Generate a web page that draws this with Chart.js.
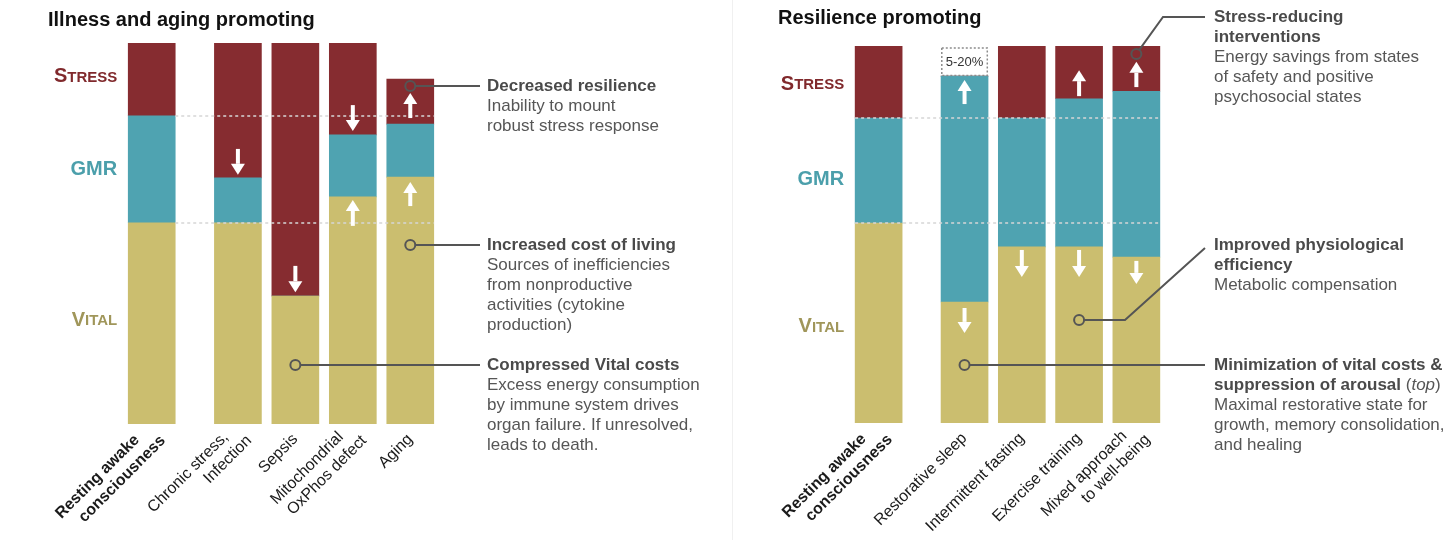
<!DOCTYPE html>
<html>
<head>
<meta charset="utf-8">
<script src="https://cdn.jsdelivr.net/npm/chart.js@4.4.1/dist/chart.umd.min.js"></script>
<style>
  html, body { margin: 0; padding: 0; background: #fff; }
  #wrap { position: relative; width: 1456px; height: 540px; overflow: hidden; }
  canvas { position: absolute; top: 0; }
  #left { left: 0; }
  #right { left: 732px; }
  #divider { position: absolute; left: 732px; top: 0; width: 1px; height: 540px; background: #f0f0f0; }
</style>
</head>
<body>
<div id="wrap">
  <canvas id="left" width="732" height="540"></canvas>
  <canvas id="right" width="724" height="540"></canvas>
  <div id="divider"></div>
</div>
<script>
// energy budget, % of resting awake total
const illnessLabels = [['Resting awake', 'consciousness'], ['Chronic stress,', 'Infection'], 'Sepsis', ['Mitochondrial', 'OxPhos defect'], 'Aging'];
const illnessVital  = [52.8, 52.8, 33.6, 59.6, 64.8];
const illnessGmr    = [28.1, 11.8, 0, 16.3, 13.9];
const illnessStress = [19.1, 35.4, 66.4, 24.1, 11.8];

const resilLabels  = [['Resting awake', 'consciousness'], 'Restorative sleep', 'Intermittent fasting', 'Exercise training', ['Mixed approach', 'to well-being']];
const resilVital   = [53.0, 32.1, 46.7, 46.7, 44.0];
const resilGmr     = [27.9, 59.9, 34.2, 39.3, 44.0];
const resilStress  = [19.1, 0, 19.1, 14.0, 12.0];
const resilSavings = [0, 7.7, 0, 0, 0];
const savingsText  = '5-20%';

// arrows: [bar, from, to]
const illnessArrows = [[1, 72.2, 65.4], [2, 41.5, 34.6], [3, 83.7, 76.9], [3, 52.0, 58.8], [4, 80.3, 86.9], [4, 57.2, 63.5]];
const resilArrows   = [[1, 84.6, 91.0], [1, 30.5, 23.9], [2, 45.9, 38.7], [3, 86.7, 93.6], [3, 45.9, 38.7], [4, 89.1, 95.8], [4, 43.0, 36.9]];

// callout texts
const illnessNotes = [
  { bar: 4, at: 88.7, head: ['Decreased resilience'], body: ['Inability to mount', 'robust stress response'] },
  { bar: 4, at: 47.0, head: ['Increased cost of living'], body: ['Sources of inefficiencies', 'from nonproductive', 'activities (cytokine', 'production)'] },
  { bar: 2, at: 15.5, head: ['Compressed Vital costs'], body: ['Excess energy consumption', 'by immune system drives', 'organ failure. If unresolved,', 'leads to death.'] }
];
const resilNotes = [
  { bar: 4, at: 97.9, textAt: 107.7, head: ['Stress-reducing', 'interventions'], body: ['Energy savings from states', 'of safety and positive', 'psychosocial states'] },
  { bar: 3, at: 27.3, textAt: 47.2, head: ['Improved physiological', 'efficiency'], body: ['Metabolic compensation'] },
  { bar: 1, at: 15.4, head: ['Minimization of vital costs &', [['suppression of arousal ', 'b'], ['(', 'r'], ['top', 'i'], [')', 'r']]],
    body: ['Maximal restorative state for', 'growth, memory consolidation,', 'and healing'] }
];

const sideNames = [['S', 'TRESS'], ['GMR', ''], ['V', 'ITAL']];

const C_VITAL = '#cbbe6f', C_GMR = '#4fa3b1', C_STRESS = '#862c30';
const SIDE_COLORS = ['#80292c', '#4b9fab', '#a0965a'];
const FONT = '"Liberation Sans", Arial, Helvetica, sans-serif';
const BAR = 47;
const NOTE_PX = 17;

function drawArrow(ctx, x, y0, y1) {
  const dir = Math.sign(y1 - y0), head = 11;
  ctx.strokeStyle = '#fff';
  ctx.fillStyle = '#fff';
  ctx.lineWidth = 4;
  ctx.beginPath();
  ctx.moveTo(x, y0);
  ctx.lineTo(x, y1 - dir * head);
  ctx.stroke();
  ctx.beginPath();
  ctx.moveTo(x - 7, y1 - dir * head);
  ctx.lineTo(x + 7, y1 - dir * head);
  ctx.lineTo(x, y1);
  ctx.closePath();
  ctx.fill();
}

function segFont(style) {
  if (style === 'b') return 'bold ' + NOTE_PX + 'px ' + FONT;
  if (style === 'i') return 'italic ' + NOTE_PX + 'px ' + FONT;
  return NOTE_PX + 'px ' + FONT;
}

function drawSegments(ctx, segs, x, y) {
  segs.forEach(([t, s]) => {
    ctx.font = segFont(s);
    ctx.fillStyle = s === 'b' ? '#4a4a4a' : '#565656';
    ctx.fillText(t, x, y);
    x += ctx.measureText(t).width;
  });
}

function decor(p) {
  return {
    id: 'decor',
    afterDatasetsDraw(chart) {
      const { ctx, scales: { x, y } } = chart;
      const px = i => x.getPixelForValue(p.slots[i]);
      const py = v => y.getPixelForValue(v);
      const half = BAR / 2;
      ctx.save();

      // dotted box for energy savings
      if (p.savings) {
        chart.getDatasetMeta(3).data.forEach((el, i) => {
          if (!p.savings[i]) return;
          const { x: cx, y: top, base } = el.getProps(['x', 'y', 'base'], true);
          ctx.setLineDash([2, 2]);
          ctx.strokeStyle = '#8c8c8c';
          ctx.lineWidth = 1.5;
          ctx.strokeRect(cx - half + 0.75, top + 0.75, BAR - 1.5, base - top - 1.5);
          ctx.setLineDash([]);
          ctx.fillStyle = '#333';
          ctx.font = '13px ' + FONT;
          ctx.textAlign = 'center';
          ctx.textBaseline = 'middle';
          ctx.fillText(savingsText, cx, (top + base) / 2 + 1);
        });
      }

      // dashed levels of the resting awake bar
      const x0 = px(0) + (p.dashAcrossFirst ? -half : half), x1 = px(p.slots.length - 1) + half;
      ctx.setLineDash([3, 3]);
      ctx.strokeStyle = '#d6d6d6';
      ctx.lineWidth = 1.5;
      [p.vital[0], p.vital[0] + p.gmr[0]].forEach(v => {
        const yy = Math.round(py(v));
        ctx.beginPath();
        ctx.moveTo(x0, yy);
        ctx.lineTo(x1, yy);
        ctx.stroke();
      });
      ctx.setLineDash([]);

      p.arrows.forEach(([i, a, b]) => drawArrow(ctx, px(i), py(a), py(b)));

      // callout leaders
      ctx.strokeStyle = '#555';
      ctx.lineWidth = 2;
      p.notes.forEach((n, k) => {
        const cx = px(n.bar), cy = py(n.at), r = 5;
        const lay = p.noteLayout[k];
        const ty = n.textAt !== undefined ? py(n.textAt) : cy;
        ctx.beginPath();
        ctx.arc(cx, cy, r, 0, Math.PI * 2);
        ctx.stroke();
        ctx.beginPath();
        if (lay.route === 'riseFirst') {
          const kx = p.lineEnd - lay.knee;
          const ang = Math.atan2(ty - cy, kx - cx);
          ctx.moveTo(cx + r * Math.cos(ang), cy + r * Math.sin(ang));
          ctx.lineTo(kx, ty);
          ctx.lineTo(p.lineEnd, ty);
        } else if (lay.route === 'riseLast') {
          ctx.moveTo(cx + r, cy);
          ctx.lineTo(p.lineEnd - lay.knee, cy);
          ctx.lineTo(p.lineEnd, ty + 3);
        } else {
          ctx.moveTo(cx + r, cy);
          ctx.lineTo(p.lineEnd, cy);
        }
        ctx.stroke();
      });
      ctx.restore();
    },
    afterDraw(chart) {
      const { ctx, chartArea, scales: { x, y } } = chart;
      const py = v => y.getPixelForValue(v);
      ctx.save();
      ctx.textBaseline = 'middle';
      ctx.textAlign = 'left';
      ctx.fillStyle = '#111';
      ctx.font = 'bold 20px ' + FONT;
      ctx.fillText(p.title, p.titleX, p.titleY);

      // small-caps side labels
      const rightEdge = x.getPixelForValue(p.slots[0]) - BAR / 2 - 11;
      sideNames.forEach(([big, small], k) => {
        const yy = py(p.sideAt[k]);
        ctx.font = 'bold 20px ' + FONT;
        const wb = ctx.measureText(big).width;
        ctx.font = 'bold 15px ' + FONT;
        const ws = ctx.measureText(small).width;
        ctx.fillStyle = SIDE_COLORS[k];
        ctx.font = 'bold 20px ' + FONT;
        ctx.fillText(big, rightEdge - wb - ws, yy);
        ctx.font = 'bold 15px ' + FONT;
        ctx.fillText(small, rightEdge - ws, yy + 0.5);
      });

      // rotated category labels, anchored at each bar's foot
      p.labels.forEach((lab, i) => {
        const lines = Array.isArray(lab) ? lab : [lab];
        const multi = lines.length > 1;
        ctx.save();
        ctx.translate(x.getPixelForValue(p.slots[i]) - 6.8, chartArea.bottom + 6);
        ctx.rotate(-Math.PI / 4);
        ctx.textAlign = 'right';
        ctx.fillStyle = '#1a1a1a';
        ctx.font = (i === 0 ? 'bold ' : '') + '16px ' + FONT;
        lines.forEach((t, k) => {
          const dx = multi ? (k === 0 ? (i === 0 ? -11 : -7) : 7) : 0;
          const dy = 9.6 + k * 19 - (multi ? 10 : 0);
          ctx.fillText(t, dx, dy);
        });
        ctx.restore();
      });

      // callout texts
      p.notes.forEach(n => {
        let yy = n.textAt !== undefined ? py(n.textAt) : py(n.at);
        n.head.forEach(line => {
          drawSegments(ctx, typeof line === 'string' ? [[line, 'b']] : line, p.textX, yy);
          yy += 20;
        });
        n.body.forEach(line => {
          drawSegments(ctx, [[line, 'r']], p.textX, yy);
          yy += 20;
        });
      });
      ctx.restore();
    }
  };
}

function makeChart(id, p) {
  const ds = (label, vals, color) => ({
    label,
    data: vals.map((v, i) => ({ x: p.slots[i], y: v })),
    backgroundColor: color,
    borderWidth: 0,
    barThickness: BAR
  });
  const datasets = [ds('Vital', p.vital, C_VITAL), ds('GMR', p.gmr, C_GMR), ds('Stress', p.stress, C_STRESS)];
  if (p.savings) datasets.push(ds('Savings', p.savings, '#ffffff'));

  return new Chart(document.getElementById(id), {
    type: 'bar',
    data: { datasets },
    options: {
      responsive: false,
      animation: false,
      devicePixelRatio: 1,
      layout: { padding: p.pad },
      plugins: { legend: { display: false }, tooltip: { enabled: false } },
      scales: {
        x: {
          type: 'linear', stacked: true, offset: false, min: -0.5, max: 5,
          grid: { display: false, drawTicks: false },
          border: { display: false },
          afterBuildTicks: s => { s.ticks = p.slots.map(v => ({ value: v })); },
          afterFit: s => { s.height = p.axisH; },
          ticks: { display: false }
        },
        y: { stacked: true, min: 0, max: 100, display: false }
      }
    },
    plugins: [decor(p)]
  });
}

makeChart('left', {
  title: 'Illness and aging promoting', titleX: 48, titleY: 20,
  labels: illnessLabels, vital: illnessVital, gmr: illnessGmr, stress: illnessStress,
  arrows: illnessArrows, notes: illnessNotes,
  noteLayout: [{ route: 'straight' }, { route: 'straight' }, { route: 'straight' }],
  slots: [0, 1.5, 2.5, 3.5, 4.5],
  sideAt: [91.1, 66.7, 27.3],
  pad: { left: 123, right: 293, top: 43, bottom: 0 }, axisH: 116,
  lineEnd: 480, textX: 487
});

makeChart('right', {
  title: 'Resilience promoting', titleX: 46, titleY: 18,
  labels: resilLabels, vital: resilVital, gmr: resilGmr, stress: resilStress, savings: resilSavings,
  arrows: resilArrows, notes: resilNotes,
  noteLayout: [{ route: 'riseFirst', knee: 42 }, { route: 'riseLast', knee: 80 }, { route: 'straight' }],
  slots: [0, 1.5, 2.5, 3.5, 4.5],
  sideAt: [89.9, 64.7, 25.5],
  dashAcrossFirst: true,
  pad: { left: 118, right: 291, top: 46, bottom: 0 }, axisH: 117,
  lineEnd: 473, textX: 482
});
</script>
</body>
</html>
